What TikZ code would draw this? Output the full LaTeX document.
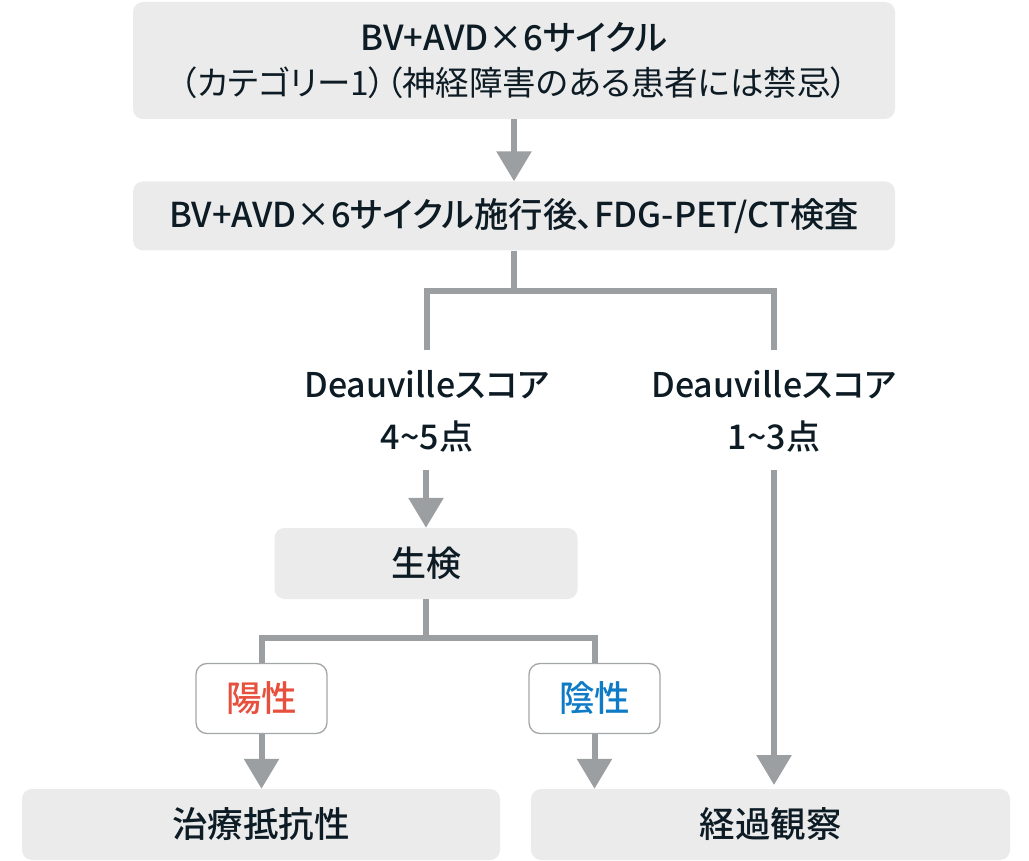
\documentclass[tikz,border=0pt]{standalone}
\usepackage{fontspec}
\setmainfont{Noto Sans CJK JP Medium}[RawFeature=+palt]
\newfontfamily\reg{Noto Sans CJK JP}[RawFeature=+palt]
\usetikzlibrary{arrows.meta}
\definecolor{boxfill}{HTML}{EBEBEB}
\definecolor{linec}{HTML}{9B9FA1}
\definecolor{txt}{HTML}{0D1B24}
\definecolor{redt}{HTML}{E8503E}
\definecolor{bluet}{HTML}{0F7BC6}
\definecolor{smallb}{HTML}{A3A6A8}
\tikzset{
  graybox/.style={fill=boxfill, rounded corners=10pt, inner sep=0pt, text=txt, align=center},
  resbox/.style={fill=white, draw=smallb, line width=1.3pt, rounded corners=11pt, inner sep=0pt,
    minimum width=131pt, minimum height=70pt, font=\fontsize{35.5}{40}\selectfont},
  conn/.style={draw=linec, line width=6pt, line join=miter},
  arr/.style={conn, -{Triangle[width=34pt,length=30pt]}},
  lbl/.style={text=txt, align=center, inner sep=0pt, font=\fontsize{34}{52}\selectfont}
}
\begin{document}
\begin{tikzpicture}[x=1pt,y=-1pt]
\useasboundingbox (0,0) rectangle (1029,861);
\node[graybox, minimum width=762pt, minimum height=117pt, font=\fontsize{34.5}{45}\selectfont] (b1) at (514,60.5)
  {BV+AVD×6サイクル\\{\reg\fontsize{33.5}{45}\selectfont（カテゴリー1）（神経障害のある患者には禁忌）}};
\node[graybox, minimum width=762pt, minimum height=69pt, font=\fontsize{34.3}{40}\selectfont] (b2) at (514,216)
  {BV+AVD×6サイクル施行後、FDG-PET/CT検査};
\node[lbl] (l1) at (427,411) {Deauvilleスコア\\4\textasciitilde5点};
\node[lbl] (l2) at (774,411) {Deauvilleスコア\\1\textasciitilde3点};
\node[graybox, minimum width=303pt, minimum height=71pt, font=\fontsize{35}{40}\selectfont] (b3) at (426,563.5) {生検};
\node[resbox, text=redt] (pos) at (261.5,698.5) {陽性};
\node[resbox, text=bluet] (neg) at (594.5,698.5) {陰性};
\node[graybox, minimum width=478pt, minimum height=71pt, font=\fontsize{35.5}{40}\selectfont] (r1) at (261,824.5) {治療抵抗性};
\node[graybox, minimum width=479pt, minimum height=71pt, font=\fontsize{35.5}{40}\selectfont] (r2) at (770.5,824.5) {経過観察};
% connectors
\draw[arr] (b1.south) -- (b2.north);
\coordinate (j1) at (514,291);
\coordinate (d1) at (427,350);
\coordinate (d2) at (774,350);
\draw[conn] (b2.south) -- (j1);
\draw[conn] (d1) |- (j1) -| (d2);
\coordinate (a1) at (426,470);
\draw[arr] (a1) -- (b3.north);
\coordinate (a2) at (774,470);
\coordinate (a2e) at (774,785);
\draw[arr] (a2) -- (a2e);
\coordinate (j2) at (426,638);
\draw[conn] (b3.south) -- (j2);
\draw[conn] (pos.north) |- (j2) -| (neg.north);
\draw[arr] (pos.south) -- (pos.south |- r1.north);
\draw[arr] (neg.south) -- (neg.south |- r2.north);
\end{tikzpicture}
\end{document}
